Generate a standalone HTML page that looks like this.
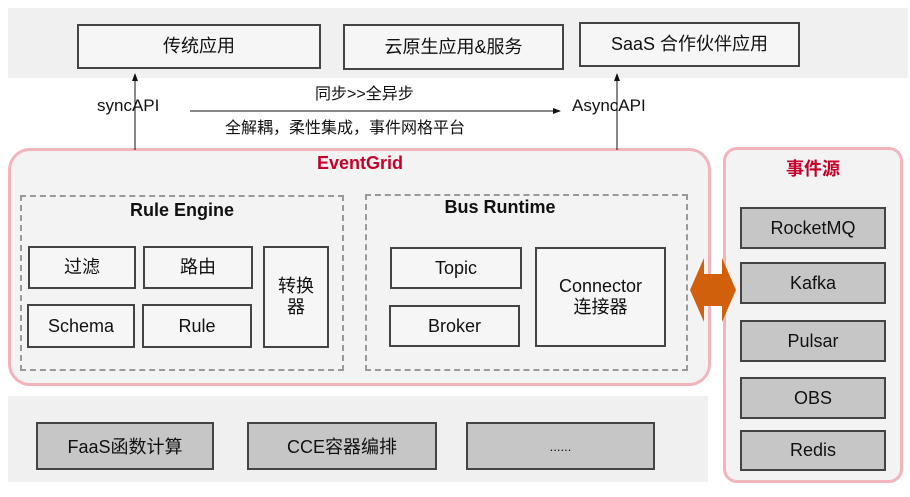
<!DOCTYPE html>
<html><head><meta charset="utf-8"><style>
body{margin:0;width:910px;height:497px;background:#fff;position:relative;overflow:hidden;font-family:"Liberation Sans","Noto Sans CJK SC",sans-serif;color:#111}
div{position:absolute;box-sizing:border-box}
.b{border:2px solid #444;background:#f6f6f6;display:flex;align-items:center;justify-content:center;font-size:18px;text-align:center;line-height:1.15}
.g{border:2px solid #444;background:#c6c6c6;display:flex;align-items:center;justify-content:center;font-size:18px}
.d{border:2px dashed #999}
.t{white-space:nowrap;font-size:17px}
</style></head><body>
<div style="left:8px;top:8px;width:900px;height:70px;background:#f0f0f0"></div>
<div class="b" style="left:77px;top:24px;width:244px;height:45px">传统应用</div>
<div class="b" style="left:343px;top:24px;width:221px;height:46px">云原生应用&amp;服务</div>
<div class="b" style="left:579px;top:22px;width:221px;height:45px">SaaS 合作伙伴应用</div>

<div style="left:8px;top:148px;width:703px;height:238px;border:3px solid #f0b4ba;border-radius:22px;background:#f3f3f3"></div>
<div class="t" style="left:300px;top:153px;width:120px;text-align:center;color:#c4002a;font-weight:bold;font-size:18px">EventGrid</div>
<div class="d" style="left:20px;top:195px;width:324px;height:176px"></div>
<div class="t" style="left:20px;top:200px;width:324px;text-align:center;font-weight:bold;font-size:18px">Rule Engine</div>
<div class="b" style="left:28px;top:246px;width:108px;height:43px">过滤</div>
<div class="b" style="left:143px;top:246px;width:110px;height:43px">路由</div>
<div class="b" style="left:263px;top:246px;width:66px;height:102px">转换<br>器</div>
<div class="b" style="left:27px;top:304px;width:108px;height:44px">Schema</div>
<div class="b" style="left:142px;top:304px;width:110px;height:44px">Rule</div>
<div class="d" style="left:365px;top:194px;width:323px;height:177px"></div>
<div class="t" style="left:440px;top:197px;width:120px;text-align:center;font-weight:bold;font-size:18px">Bus Runtime</div>
<div class="b" style="left:390px;top:247px;width:132px;height:42px">Topic</div>
<div class="b" style="left:389px;top:305px;width:131px;height:42px">Broker</div>
<div class="b" style="left:535px;top:247px;width:131px;height:100px">Connector<br>连接器</div>

<div style="left:723px;top:147px;width:180px;height:336px;border:3px solid #f0b4ba;border-radius:14px;background:#f3f3f3"></div>
<div class="t" style="left:723px;top:155px;width:180px;text-align:center;color:#c4002a;font-weight:bold;font-size:18px">事件源</div>
<div class="g" style="left:740px;top:207px;width:146px;height:42px">RocketMQ</div>
<div class="g" style="left:740px;top:262px;width:146px;height:42px">Kafka</div>
<div class="g" style="left:740px;top:320px;width:146px;height:42px">Pulsar</div>
<div class="g" style="left:740px;top:377px;width:146px;height:42px">OBS</div>
<div class="g" style="left:740px;top:430px;width:146px;height:41px">Redis</div>

<div style="left:8px;top:396px;width:700px;height:86px;background:#f0f0f0"></div>
<div class="g" style="left:36px;top:422px;width:178px;height:48px">FaaS函数计算</div>
<div class="g" style="left:247px;top:422px;width:190px;height:48px">CCE容器编排</div>
<div class="g" style="left:466px;top:422px;width:189px;height:48px;font-size:13px">......</div>

<svg style="position:absolute;left:0;top:0" width="910" height="497">
<defs><marker id="a" markerWidth="8" markerHeight="8" refX="7" refY="4" orient="auto"><path d="M0,1 L8,4 L0,7z" fill="#111"/></marker></defs>
<line x1="135" y1="150" x2="135" y2="74" stroke="#111" stroke-width="1" marker-end="url(#a)"/>
<line x1="617" y1="150" x2="617" y2="74" stroke="#111" stroke-width="1" marker-end="url(#a)"/>
<line x1="190" y1="111" x2="560" y2="111" stroke="#111" stroke-width="1" marker-end="url(#a)"/>
<path d="M690,290 L704,258 L704,274 L722,274 L722,258 L736,290 L722,322 L722,306 L704,306 L704,322z" fill="#d1600c"/>
</svg>
<div class="t" style="left:97px;top:96px;font-size:17px">syncAPI</div>
<div class="t" style="left:572px;top:96px;font-size:17px">AsyncAPI</div>
<div class="t" style="left:315px;top:80px;font-size:16px">同步&gt;&gt;全异步</div>
<div class="t" style="left:225px;top:114px;font-size:16px">全解耦，柔性集成，事件网格平台</div>
</body></html>
